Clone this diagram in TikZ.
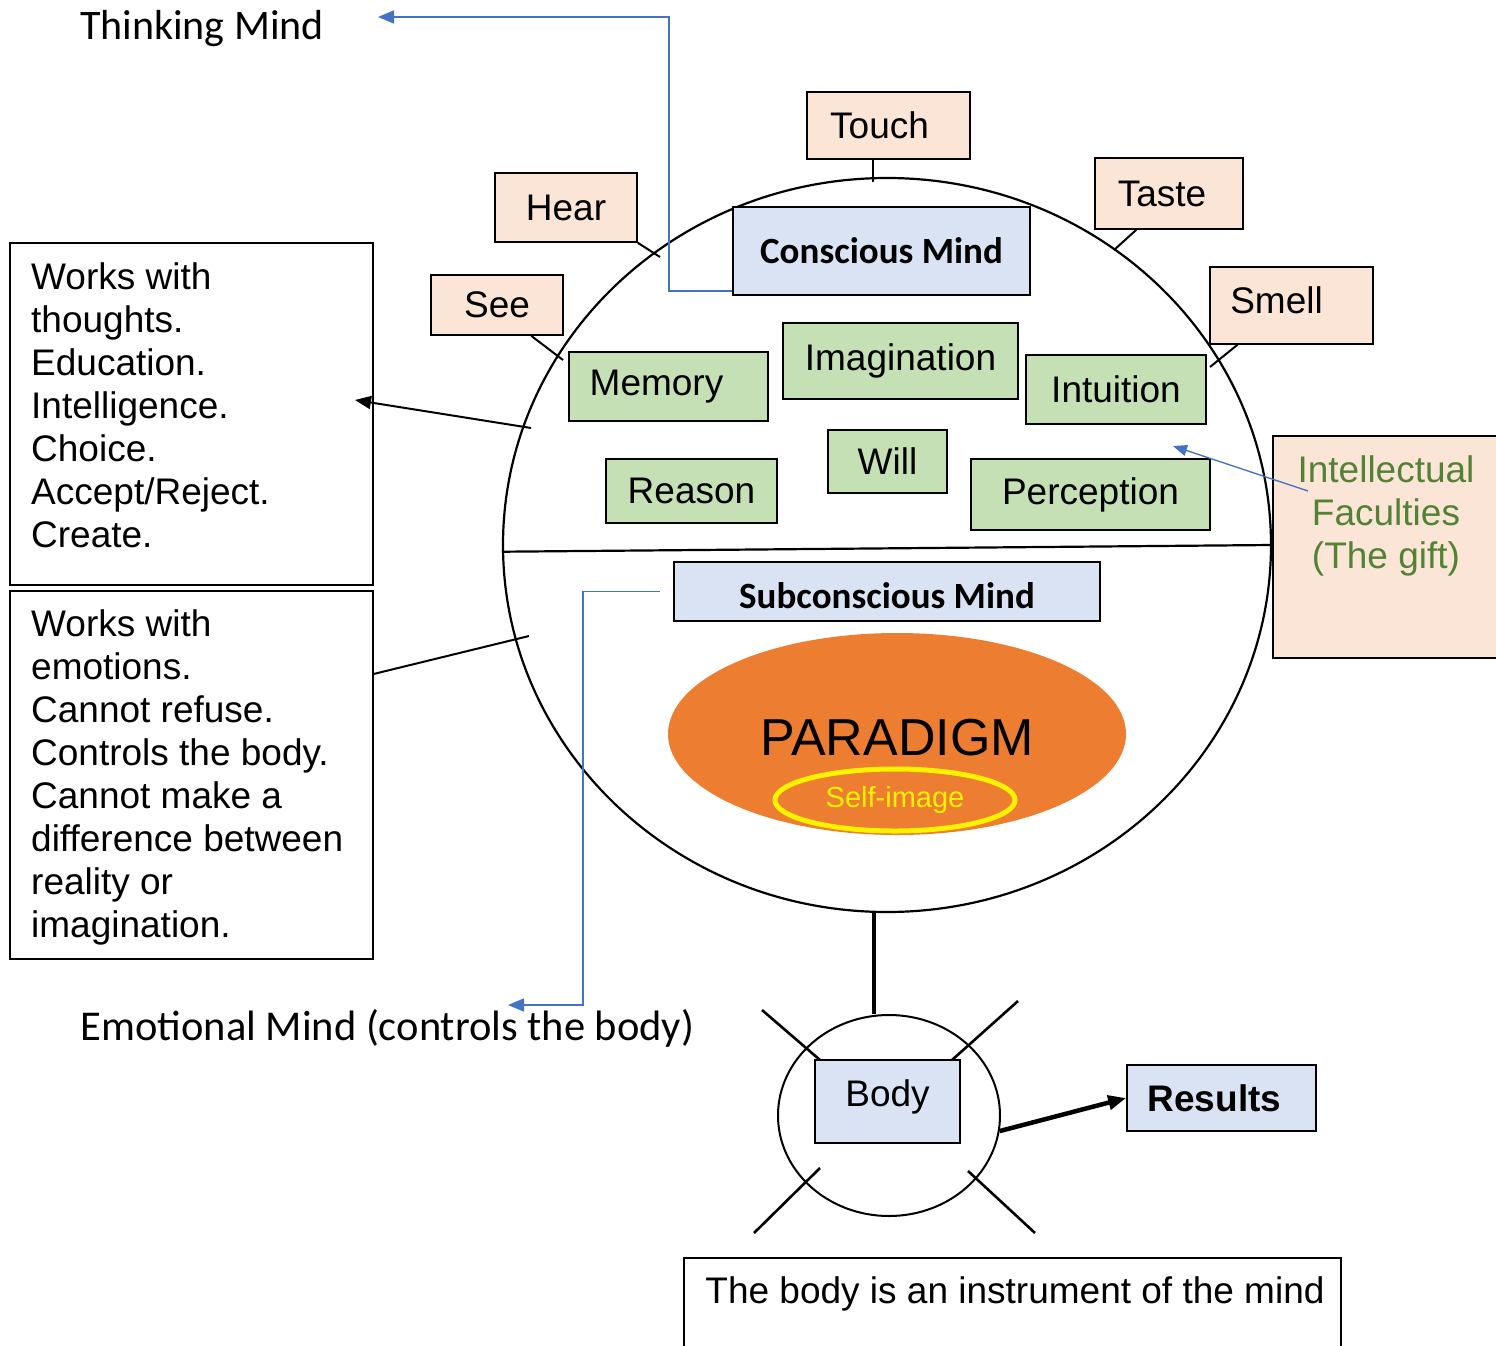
\documentclass[tikz,border=0pt]{standalone}
\usepackage{fontspec}
\setmainfont{Liberation Sans}
\newfontfamily\calibri{Carlito}
\usetikzlibrary{arrows.meta}
\usetikzlibrary{shapes.geometric}
\definecolor{peach}{RGB}{251,229,214}
\definecolor{leaf}{RGB}{197,224,180}
\definecolor{paleblue}{RGB}{218,227,243}
\definecolor{paradigmorange}{RGB}{237,125,49}
\definecolor{linkblue}{RGB}{68,114,196}
\definecolor{giftgreen}{RGB}{84,130,53}

\begin{document}
\begin{tikzpicture}[x=1pt,y=1pt,yscale=-1,xscale=1,
  plainbox/.style={draw, line width=1.6pt, inner sep=0pt, font=\fontsize{37}{43}\selectfont},
  sense/.style={plainbox, fill=peach},
  faculty/.style={plainbox, fill=leaf},
  mindbox/.style={plainbox, fill=paleblue, font=\calibri\bfseries\fontsize{37}{43}\selectfont},
  notebox/.style={draw, line width=1.6pt, inner sep=0pt},
  notetext/.style={inner sep=0pt, align=left, font=\fontsize{37}{43}\selectfont},
  bluelink/.style={draw=linkblue, line width=1.6pt, -{Triangle[length=16pt,width=13pt]}},
  crossline/.style={line width=2.6pt}
]
\useasboundingbox (0,0) rectangle (1496,1346);

%Shape: Ellipse (the mind)
\node[ellipse, draw, line width=2.2pt, inner sep=0pt, minimum width=768pt, minimum height=734pt] (mind) at (887,545) {};
%Straight Lines (conscious / subconscious)
\draw[line width=2.2pt] (mind.181) -- (mind.0);

% Senses
\node[sense, minimum width=163pt, minimum height=67pt] (touch) at (888.5,125.5) {Touch\hspace*{18pt}};
\node[sense, minimum width=142pt, minimum height=69pt] (hear) at (566,207.5) {Hear};
\node[sense, minimum width=132pt, minimum height=60pt] (see) at (497,305) {See};
\node[sense, minimum width=148pt, minimum height=71pt] (taste) at (1169,193.5) {Taste\hspace*{14pt}};
\node[sense, minimum width=163pt, minimum height=77pt, text depth=10pt] (smell) at (1291.5,305.5) {Smell\hspace*{30pt}};

\coordinate (touchrim) at (873,182);
\coordinate (hearrim) at (660,257);
\coordinate (seerim) at (563,360);
\coordinate (tasterim) at (1114,250);
\coordinate (smellrim) at (1210,367);
\draw[line width=2pt] (touchrim |- touch.south) -- (touchrim);
\draw[line width=2pt] (hear.south east) -- (hearrim);
\draw[line width=2pt] (see.318) -- (seerim);
\draw[line width=2pt] (taste.228) -- (tasterim);
\draw[line width=2pt] (smell.216) -- (smellrim);

% Conscious mind and faculties
\node[mindbox, minimum width=297pt, minimum height=88pt] (conscious) at (881.5,251) {Conscious Mind};
\node[faculty, minimum width=199pt, minimum height=69pt] (memory) at (668.5,386.5) {Memory\hspace*{24pt}};
\node[faculty, minimum width=235pt, minimum height=76pt] (imagination) at (900.5,361) {Imagination};
\node[faculty, minimum width=180pt, minimum height=69pt] (intuition) at (1116,389.5) {Intuition};
\node[faculty, minimum width=119pt, minimum height=63pt] (will) at (887.5,461.5) {Will};
\node[faculty, minimum width=171pt, minimum height=64pt] (reason) at (691.5,491) {Reason};
\node[faculty, minimum width=239pt, minimum height=71pt] (perception) at (1090.5,494.5) {Perception};

%Shape: Rectangle (the gift)
\node[plainbox, fill=peach, minimum width=226pt, minimum height=222pt] (gift) at (1386,547) {};
% Text Node
\node[inner sep=0pt, align=center, text=giftgreen, font=\fontsize{37}{43}\selectfont, anchor=north] (gifttext) at (1386,455) {Intellectual\\Faculties\\(The gift)};
\coordinate (giftstart) at (1308,491);
\coordinate (gifttip) at (1173,446);
\draw[draw=linkblue, line width=1.4pt, -{Triangle[length=14pt,width=11pt]}] (giftstart) -- (gifttip);

% Subconscious mind
\node[mindbox, minimum width=426pt, minimum height=59pt, text height=34pt] (subconscious) at (887,591.5) {Subconscious Mind};
\node[ellipse, fill=paradigmorange, inner sep=0pt, minimum width=458pt, minimum height=202pt, text height=43pt, font=\fontsize{52}{60}\selectfont] (paradigm) at (897,734) {PARADIGM};
\node[ellipse, draw=yellow, line width=5pt, inner sep=0pt, minimum width=240pt, minimum height=62pt, text=yellow, font=\fontsize{29}{35}\selectfont] (selfimage) at (895,800) {Self-image};

% Thinking / emotional mind
\node[inner sep=0pt, anchor=base, font=\calibri\fontsize{42}{50}\selectfont] (thinking) at (202,40) {Thinking Mind};
\coordinate (thinktip) at (378,17);
\draw[bluelink] (conscious.195) -- ++(-63,0) |- (thinktip);

\node[inner sep=0pt, anchor=base, font=\calibri\fontsize{42.5}{50}\selectfont] (emotional) at (387.5,1040) {Emotional Mind (controls the body)};
\coordinate (emotiontip) at (508,1005);
\draw[bluelink] (subconscious.west) ++(-13,0) -- ++(-77,0) |- (emotiontip);

% Notes on the left
\node[notebox, minimum width=363pt, minimum height=342pt] (thoughtbox) at (191.5,414) {};
\node[notetext, anchor=north west] (thoughttext) at (31,262) {Works with\\thoughts.\\Education.\\Intelligence.\\Choice.\\Accept/Reject.\\Create.};
\node[notebox, minimum width=363pt, minimum height=368pt] (emotionbox) at (191.5,775) {};
\node[notetext, anchor=north west] (emotiontext) at (31,609) {Works with\\emotions.\\Cannot refuse.\\Controls the body.\\Cannot make a\\difference between\\reality or\\imagination.};

\coordinate (thoughtrim) at (531,428);
\coordinate (thoughttip) at (355,400);
\draw[line width=2pt, -{Triangle[length=16pt,width=13pt]}] (thoughtrim) -- (thoughttip);
\coordinate (emotionrim) at (529,636);
\draw[line width=2pt] (emotionbox.29) -- (emotionrim);

% Body
\node[ellipse, draw, line width=2pt, inner sep=0pt, minimum width=222pt, minimum height=201pt] (bodyring) at (889,1115.5) {};
\draw[line width=4.5pt] (mind.268) -- (mind.268 |- bodyring.north);
\node[plainbox, fill=paleblue, minimum width=145pt, minimum height=83pt, text depth=16pt] (body) at (887.5,1101.5) {Body};
\draw[crossline] (762,1010) -- (820,1060);
\draw[crossline] (1018,1001) -- (952,1060);
\draw[crossline] (820,1168) -- (754,1233);
\draw[crossline] (968,1171) -- (1035,1233);

\node[plainbox, fill=paleblue, minimum width=189pt, minimum height=66pt, font=\bfseries\fontsize{37}{43}\selectfont] (results) at (1221.5,1098) {Results\hspace*{14pt}};
\draw[line width=4.5pt, -{Triangle[length=18pt,width=14pt]}] (bodyring.352) -- (results.west);

%Shape: Rectangle (caption)
\node[notebox, anchor=north, minimum width=657pt, minimum height=110pt] (caption) at (1012.5,1257) {};
% Text Node
\node[inner sep=0pt, anchor=base, font=\fontsize{37}{43}\selectfont] (captiontext) at (1015,1303) {The body is an instrument of the mind};

\end{tikzpicture}
\end{document}
